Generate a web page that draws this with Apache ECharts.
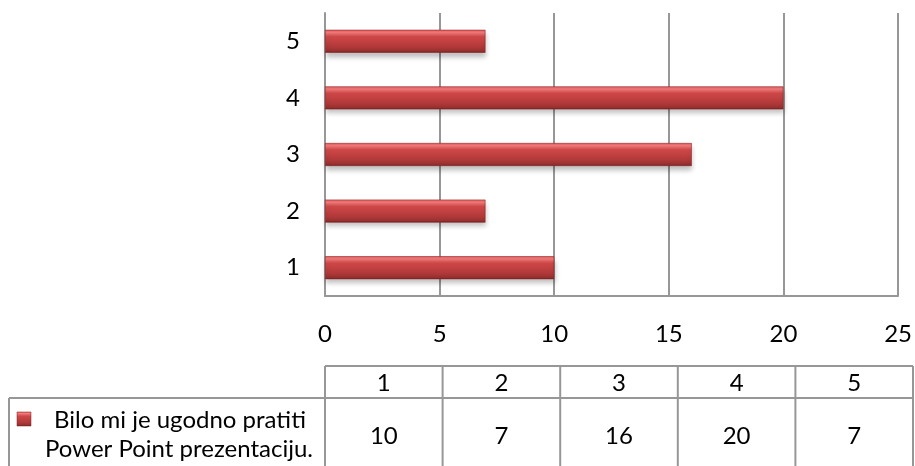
<!DOCTYPE html>
<html>
<head>
<meta charset="utf-8">
<script src="https://cdn.jsdelivr.net/npm/echarts@6/dist/echarts.min.js"></script>
<style>
  html, body { margin: 0; padding: 0; background: #fff; }
  #chart { width: 915px; height: 466px; }
</style>
</head>
<body>
<div id="chart"></div>
<script>
const categories = ['1', '2', '3', '4', '5'];
const values = [10, 7, 16, 20, 7];
const seriesName = 'Bilo mi je ugodno pratiti Power Point prezentaciju.';
const legendLines = ['Bilo mi je ugodno pratiti', 'Power Point prezentaciju.'];

const FONT = 'Lato, "Open Sans", sans-serif';
const FS = 24;
const GRID = '#979797';

const barColor = {
    type: 'linear', x: 0, y: 0, x2: 0, y2: 1,
    colorStops: [
        { offset: 0, color: '#e65a5a' },
        { offset: 0.12, color: '#f27a7a' },
        { offset: 0.3, color: '#d04848' },
        { offset: 0.75, color: '#b03838' },
        { offset: 0.92, color: '#983030' },
        { offset: 1, color: '#6e1f1f' }
    ]
};

// data table layout
const tblLeft = 325, tblRight = 913, legLeft = 9;
const headTop = 366, rowTop = 398, rowBottom = 470;
const colW = (tblRight - tblLeft) / categories.length;

function buildTable() {
    const g = [];
    const line = (x1, y1, x2, y2) => g.push({
        type: 'line', shape: { x1, y1, x2, y2 },
        style: { stroke: GRID, lineWidth: 2 }, silent: true
    });
    const txt = (x, y, s) => g.push({ type: 'text', x, y,
        style: { text: s, font: FS + 'px ' + FONT, fill: '#000', align: 'center', verticalAlign: 'middle' } });
    line(tblLeft, headTop, tblRight, headTop);
    line(legLeft, rowTop, tblRight, rowTop);
    line(legLeft, rowTop, legLeft, rowBottom);
    for (let i = 0; i <= categories.length; i++) {
        const x = tblLeft + i * colW;
        line(x, headTop, x, rowBottom);
    }
    categories.forEach((c, i) => {
        const cx = tblLeft + (i + 0.5) * colW;
        txt(cx, (headTop + rowTop) / 2 + 1, c);
        txt(cx, 436, String(values[i]));
    });
    g.push({ type: 'rect', shape: { x: 17, y: 412, width: 14, height: 14 },
        style: { fill: barColor, stroke: '#7a2222', lineWidth: 0.5 } });
    txt(180, 420, legendLines[0]);
    txt(179, 449, legendLines[1]);
    return g;
}

const chart = echarts.init(document.getElementById('chart'));
chart.setOption({
    animation: false,
    grid: { left: 325, right: 15, top: 13, bottom: 170, containLabel: false },
    xAxis: {
        type: 'value', min: 0, max: 25, interval: 5,
        axisLine: { show: true, lineStyle: { color: GRID, width: 2 } },
        axisTick: { show: false },
        axisLabel: { color: '#000', fontSize: FS, fontFamily: FONT, margin: 26 },
        splitLine: { show: true, lineStyle: { color: GRID, width: 2 } }
    },
    yAxis: {
        type: 'category', data: categories,
        axisLine: { show: true, lineStyle: { color: GRID, width: 2 } },
        axisTick: { show: false },
        axisLabel: { color: '#000', fontSize: FS, fontFamily: FONT, margin: 25 }
    },
    series: [{
        name: seriesName, type: 'bar', data: values,
        barWidth: 23,
        itemStyle: {
            color: barColor,
            borderColor: '#8a2828', borderWidth: 0.6,
            shadowColor: 'rgba(0,0,0,0.25)', shadowBlur: 5, shadowOffsetY: 4, shadowOffsetX: 1
        }
    }],
    graphic: buildTable()
});
</script>
</body>
</html>
